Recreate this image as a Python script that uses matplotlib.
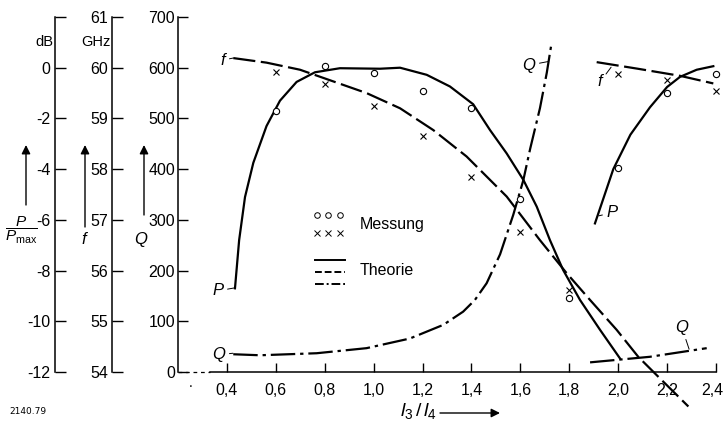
import matplotlib.pyplot as plt
from matplotlib.transforms import ScaledTranslation

plt.rcParams["font.family"] = ["Liberation Sans", "DejaVu Sans"]
plt.rcParams["mathtext.fontset"] = "custom"
plt.rcParams["mathtext.rm"] = "Liberation Sans"
plt.rcParams["mathtext.it"] = "Liberation Sans:italic"

# Messung (l3/l4)
x_meas = [0.6, 0.8, 1.0, 1.2, 1.4, 1.6, 1.8, 2.0, 2.2, 2.4]
P_meas = [-1.7, 0.08, -0.22, -0.9, -1.6, -5.16, -9.1, -3.96, -0.98, -0.24]  # dB
f_meas = [59.92, 59.67, 59.25, 58.66, 57.85, 56.77, 55.62, 59.88, 59.76, 59.55]  # GHz

# Theorie, erster Zweig
x_P1 = [0.433, 0.450, 0.474, 0.508, 0.562, 0.617, 0.685, 0.760, 0.862, 1.026, 1.108,
        1.217, 1.312, 1.407, 1.476, 1.544, 1.612, 1.667, 1.721, 1.775, 1.844, 1.926, 2.007]
P1 = [-8.7, -6.8, -5.1, -3.75, -2.3, -1.3, -0.56, -0.18, -0.02, -0.04, 0.0,
      -0.28, -0.74, -1.44, -2.46, -3.38, -4.42, -5.48, -6.8, -7.98, -9.16, -10.34, -11.46]
x_f1 = [0.426, 0.562, 0.699, 0.835, 0.971, 1.108, 1.244, 1.380, 1.544, 1.680,
        1.789, 1.885, 1.994, 2.082, 2.157, 2.287]
f1 = [60.19, 60.10, 59.96, 59.73, 59.50, 59.20, 58.77, 58.25, 57.46, 56.60,
      55.95, 55.42, 54.83, 54.30, 53.94, 53.32]
x_Q1 = [0.426, 0.535, 0.767, 0.971, 1.148, 1.285, 1.366, 1.414, 1.462, 1.517,
        1.571, 1.612, 1.640, 1.680, 1.708, 1.728]
Q1 = [35, 33, 37, 47, 66, 93, 119, 142, 175, 232, 310, 378, 440, 520, 590, 650]

# Theorie, zweiter Zweig
x_P2 = [1.905, 1.980, 2.050, 2.130, 2.200, 2.253, 2.321, 2.389]
P2 = [-6.14, -4.0, -2.64, -1.56, -0.76, -0.36, -0.08, 0.06]
x_f2 = [1.912, 2.080, 2.253, 2.389]
f2 = [60.11, 59.98, 59.84, 59.69]
x_Q2 = [1.885, 2.130, 2.362]
Q2 = [19, 30, 47]

x_ticks = [0.4, 0.6, 0.8, 1.0, 1.2, 1.4, 1.6, 1.8, 2.0, 2.2, 2.4]
x_ticklabels = ["0,4", "0,6", "0,8", "1,0", "1,2", "1,4", "1,6", "1,8", "2,0", "2,2", "2,4"]
Q_ticks = [0, 100, 200, 300, 400, 500, 600, 700]
dB_ticks = [-12, -10, -8, -6, -4, -2, 0, 2]
dB_ticklabels = ["-12", "-10", "-8", "-6", "-4", "-2", "0", ""]
f_ticks = [54, 55, 56, 57, 58, 59, 60, 61]

lw = 1.6
dashed = (0, (10, 2.5))
dashdot = (0, (11, 2.2, 1.5, 2.2))
fs = 11.5

fig = plt.figure(figsize=(7.23, 4.28), dpi=100)
ax = fig.add_axes([178 / 723, 56 / 428, 545 / 723, 355 / 428])
ax.set_xlim(0.2, 2.4286)
ax.set_ylim(0, 700)
ax.spines["top"].set_visible(False)
ax.spines["right"].set_visible(False)
ax.spines["left"].set_linewidth(1.1)
ax.spines["bottom"].set_linewidth(1.1)
ax.spines["bottom"].set_bounds(0.33, 2.4)
ax.plot([0.2, 0.33], [0, 0], color="k", lw=0.9, ls=(0, (3, 3)), clip_on=False)
ax.set_xticks(x_ticks)
ax.set_xticklabels(x_ticklabels)
ax.set_yticks(Q_ticks)
ax.tick_params(axis="x", direction="in", length=6.5, width=1, pad=8, labelsize=fs)
ax.tick_params(axis="y", direction="in", length=7, width=1, pad=2, labelsize=fs)
last = ax.get_xticklabels()[-1]
last.set_transform(last.get_transform() + ScaledTranslation(-4 / 100, 0, fig.dpi_scale_trans))
ax.text(0.25, -30, ".", fontsize=10, ha="center")

ax_db = ax.twinx()
ax_f = ax.twinx()
for a, pos, ticks, labels, pad in [
    (ax_db, -123 / 545, dB_ticks, dB_ticklabels, 3.5),
    (ax_f, -66 / 545, f_ticks, [str(t) for t in f_ticks], 3),
]:
    for s in ["top", "bottom", "right"]:
        a.spines[s].set_visible(False)
    a.spines["left"].set_visible(True)
    a.spines["left"].set_position(("axes", pos))
    a.spines["left"].set_linewidth(1.1)
    a.yaxis.set_ticks_position("left")
    a.set_yticks(ticks)
    a.set_yticklabels(labels)
    a.tick_params(axis="y", direction="in", length=8, width=1, pad=pad, labelsize=fs)
ax_db.set_ylim(-12, 2)
ax_f.set_ylim(54, 61)

# Theorie
ax_db.plot(x_P1, P1, color="k", lw=lw, clip_on=False)
ax_db.plot(x_P2, P2, color="k", lw=lw, clip_on=False)
ax_f.plot(x_f1, f1, color="k", lw=lw, ls=dashed, clip_on=False)
ax_f.plot(x_f2, f2, color="k", lw=lw, ls=dashed, clip_on=False)
ax.plot(x_Q1, Q1, color="k", lw=lw, ls=dashdot, clip_on=False)
ax.plot(x_Q2, Q2, color="k", lw=lw, ls=dashdot, clip_on=False)

# Messung
ax_db.plot(x_meas, P_meas, ls="none", marker="o", ms=4.5, mfc="white", mec="k", mew=0.8, clip_on=False)
ax_f.plot(x_meas, f_meas, ls="none", marker="x", ms=4.5, mec="k", mew=0.8, clip_on=False)

# Kurvenbeschriftung
lab = dict(fontsize=12, style="italic", ha="center", va="center",
           arrowprops=dict(arrowstyle="-", lw=0.7, color="k", shrinkA=1, shrinkB=0))
ax.annotate("P", xy=(0.433, 166), xytext=(0.363, 160), **lab)
ax.annotate("f", xy=(0.425, 619), xytext=(0.384, 615), **lab)
ax.annotate("Q", xy=(0.425, 37), xytext=(0.367, 34), **lab)
ax.annotate("Q", xy=(1.712, 612), xytext=(1.635, 605), **lab)
ax.annotate("P", xy=(1.921, 308), xytext=(1.975, 314), **lab)
ax.annotate("f", xy=(1.971, 601), xytext=(1.926, 572), **lab)
ax.annotate("Q", xy=(2.29, 45), xytext=(2.261, 87), **lab)

# Legende
t = ax.transAxes
ax.plot([0.255, 0.275, 0.297], [0.442] * 3, ls="none", marker="o", ms=4, mfc="white",
        mec="k", mew=0.7, transform=t)
ax.plot([0.255, 0.275, 0.297], [0.392] * 3, ls="none", marker="x", ms=4, mec="k",
        mew=0.7, transform=t)
ax.text(0.334, 0.415, "Messung", fontsize=fs, va="center", transform=t)
ax.plot([0.251, 0.306], [0.315, 0.315], color="k", lw=1.4, transform=t)
ax.plot([0.251, 0.306], [0.283, 0.283], color="k", lw=1.4, ls=(0, (3.5, 1.5)), transform=t)
ax.plot([0.251, 0.306], [0.248, 0.248], color="k", lw=1.4, ls=(0, (4.5, 1.5, 1, 1.5)), transform=t)
ax.text(0.334, 0.287, "Theorie", fontsize=fs, va="center", transform=t)

# linke Achsenbeschriftung
H = 428
fig.text(44 / 723, 1 - 42 / H, "dB", fontsize=10.5, ha="center", va="center")
fig.text(96 / 723, 1 - 42 / H, "GHz", fontsize=10.5, ha="center", va="center")
arrow = dict(arrowstyle="-|>", lw=1, color="k", mutation_scale=13, shrinkA=0, shrinkB=0)
for xa, y0 in [(26, 205), (85, 227), (144, 215)]:
    ax.annotate("", xy=(xa, H - 145), xytext=(xa, H - y0), xycoords="figure pixels",
                textcoords="figure pixels", arrowprops=arrow)
fig.text(21 / 723, 1 - 230 / H, r"$\dfrac{P}{P_{\mathrm{max}}}$", fontsize=11, ha="center", va="center")
fig.text(84 / 723, 1 - 240 / H, "f", fontsize=12, style="italic", ha="center", va="center")
fig.text(141 / 723, 1 - 240 / H, "Q", fontsize=12, style="italic", ha="center", va="center")
fig.text(28 / 723, 1 - 412 / H, "2140.79", fontsize=6.5, ha="center", va="center", family="DejaVu Sans")

# x-Achsenbeschriftung
fig.text(437 / 723, 1 - 411 / H, r"$l_3\,/\,l_4$", fontsize=14, ha="right", va="center")
ax.annotate("", xy=(500, H - 413), xytext=(440, H - 413), xycoords="figure pixels",
            textcoords="figure pixels", arrowprops=arrow)

fig.savefig("out.png", dpi=100)
